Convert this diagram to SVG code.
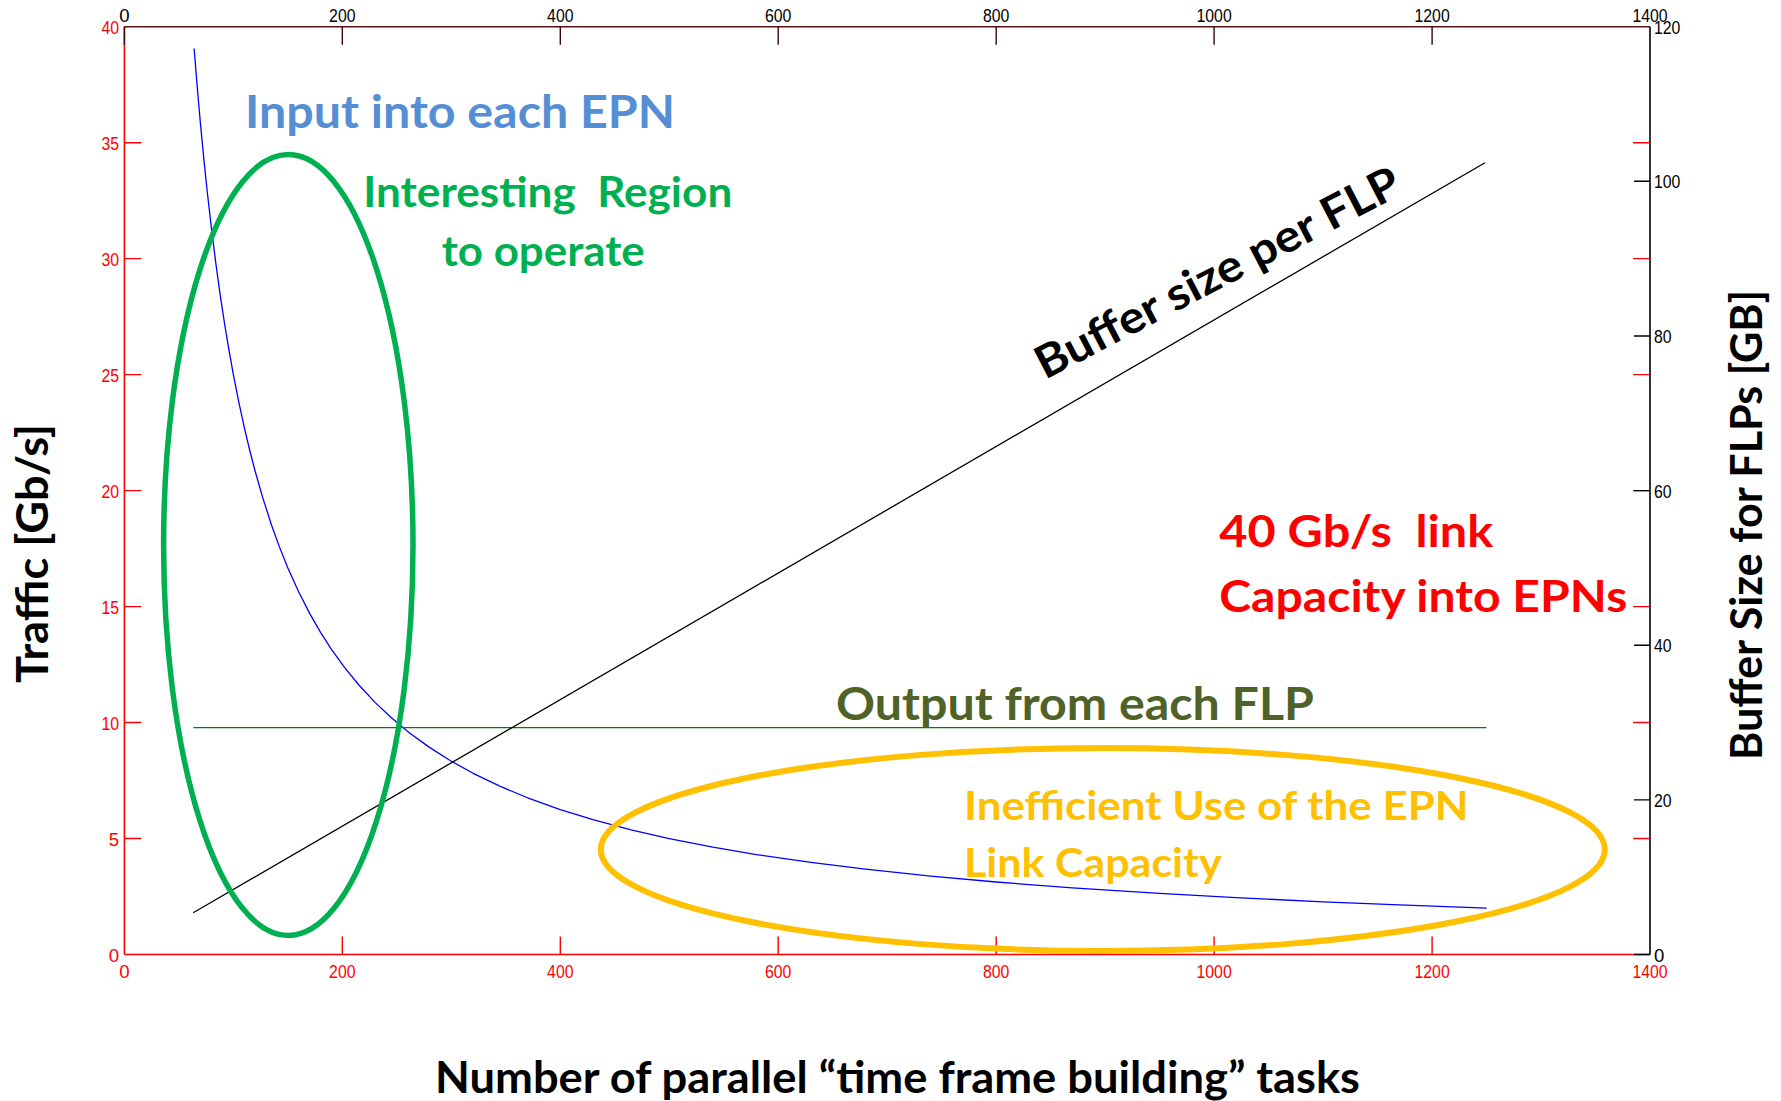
<svg xmlns="http://www.w3.org/2000/svg" width="1781" height="1101" viewBox="0 0 1781 1101">
<style>
.tick{font-family:"Liberation Sans",Arial,sans-serif;font-size:18.6px}
.lbl{font-family:"Lato","Open Sans",sans-serif;font-weight:700}
.red{fill:#FF0000}
.blk{fill:#000000}
</style>
<rect width="1781" height="1101" fill="#ffffff"/>
<g id="axes">
  <line x1="124.4" y1="26.7" x2="124.4" y2="954.5" stroke="#FF0000" stroke-width="1.6"/>
  <line x1="124.4" y1="954.5" x2="1650" y2="954.5" stroke="#FF0000" stroke-width="1.6"/>
  <line x1="124.4" y1="26.7" x2="1650" y2="26.7" stroke="#5a1010" stroke-width="1.6"/>
  <line x1="1650" y1="26.7" x2="1650" y2="954.5" stroke="#000000" stroke-width="1.6"/>
  <g stroke="#FF0000" stroke-width="1.4">
    <path d="M124.4 838.5h17M124.4 722.5h17M124.4 606.6h17M124.4 490.6h17M124.4 374.6h17M124.4 258.6h17M124.4 142.7h17"/>
    <path d="M1650 838.5h-17M1650 722.5h-17M1650 606.6h-17M1650 490.6h-17M1650 374.6h-17M1650 258.6h-17M1650 142.7h-17"/>
    <path d="M342.3 954.5v-18M560.3 954.5v-18M778.2 954.5v-18M996.2 954.5v-18M1214.1 954.5v-18M1432.1 954.5v-18"/>
  </g>
  <g stroke="#3a0808" stroke-width="1.4">
    <path d="M342.3 26.7v18M560.3 26.7v18M778.2 26.7v18M996.2 26.7v18M1214.1 26.7v18M1432.1 26.7v18M124.4 26.7v18"/>
  </g>
  <g stroke="#000000" stroke-width="1.4">
    <path d="M1650 799.9h-16M1650 645.2h-16M1650 490.6h-16M1650 336h-16M1650 181.3h-16M1650 954.5h-16"/>
  </g>
  <g class="tick red" text-anchor="end">
    <text x="119" y="961.5">0</text>
    <text x="119" y="845.5">5</text>
    <text x="119" y="729.5" textLength="17.6" lengthAdjust="spacingAndGlyphs">10</text>
    <text x="119" y="613.6" textLength="17.6" lengthAdjust="spacingAndGlyphs">15</text>
    <text x="119" y="497.6" textLength="17.6" lengthAdjust="spacingAndGlyphs">20</text>
    <text x="119" y="381.6" textLength="17.6" lengthAdjust="spacingAndGlyphs">25</text>
    <text x="119" y="265.6" textLength="17.6" lengthAdjust="spacingAndGlyphs">30</text>
    <text x="119" y="149.7" textLength="17.6" lengthAdjust="spacingAndGlyphs">35</text>
    <text x="119" y="33.7" textLength="17.6" lengthAdjust="spacingAndGlyphs">40</text>
  </g>
  <g class="tick red" text-anchor="middle">
    <text x="124.4" y="978.3">0</text>
    <text x="342.3" y="978.3" textLength="26.4" lengthAdjust="spacingAndGlyphs">200</text>
    <text x="560.3" y="978.3" textLength="26.4" lengthAdjust="spacingAndGlyphs">400</text>
    <text x="778.2" y="978.3" textLength="26.4" lengthAdjust="spacingAndGlyphs">600</text>
    <text x="996.2" y="978.3" textLength="26.4" lengthAdjust="spacingAndGlyphs">800</text>
    <text x="1214.1" y="978.3" textLength="35.2" lengthAdjust="spacingAndGlyphs">1000</text>
    <text x="1432.1" y="978.3" textLength="35.2" lengthAdjust="spacingAndGlyphs">1200</text>
    <text x="1650" y="978.3" textLength="35.2" lengthAdjust="spacingAndGlyphs">1400</text>
  </g>
  <g class="tick blk" text-anchor="middle">
    <text x="124.4" y="21.7">0</text>
    <text x="342.3" y="21.7" textLength="26.4" lengthAdjust="spacingAndGlyphs">200</text>
    <text x="560.3" y="21.7" textLength="26.4" lengthAdjust="spacingAndGlyphs">400</text>
    <text x="778.2" y="21.7" textLength="26.4" lengthAdjust="spacingAndGlyphs">600</text>
    <text x="996.2" y="21.7" textLength="26.4" lengthAdjust="spacingAndGlyphs">800</text>
    <text x="1214.1" y="21.7" textLength="35.2" lengthAdjust="spacingAndGlyphs">1000</text>
    <text x="1432.1" y="21.7" textLength="35.2" lengthAdjust="spacingAndGlyphs">1200</text>
    <text x="1650" y="21.7" textLength="35.2" lengthAdjust="spacingAndGlyphs">1400</text>
  </g>
  <g class="tick blk">
    <text x="1654" y="961.5">0</text>
    <text x="1654" y="806.9" textLength="17.6" lengthAdjust="spacingAndGlyphs">20</text>
    <text x="1654" y="652.2" textLength="17.6" lengthAdjust="spacingAndGlyphs">40</text>
    <text x="1654" y="497.6" textLength="17.6" lengthAdjust="spacingAndGlyphs">60</text>
    <text x="1654" y="343" textLength="17.6" lengthAdjust="spacingAndGlyphs">80</text>
    <text x="1654" y="188.3" textLength="26.4" lengthAdjust="spacingAndGlyphs">100</text>
    <text x="1654" y="33.7" textLength="26.4" lengthAdjust="spacingAndGlyphs">120</text>
  </g>
</g>
<g id="curves" fill="none">
  <polyline id="input-curve" stroke="#0000FF" stroke-width="1.3" stroke-linejoin="round" points="194.14,48.43 196.32,75.88 198.5,101.72 200.68,126.09 203.95,160.13 207.22,191.49 211.58,229.64 215.94,264.16 220.29,295.54 224.65,324.19 229.01,350.45 233.37,374.61 238.82,402.23 244.27,427.33 249.72,450.25 255.17,471.26 262.79,497.9 271.51,524.95 279.14,546.13 287.86,567.91 298.75,592.07 309.65,613.39 320.55,632.34 331.44,649.3 344.52,667.43 358.69,684.78 375.03,702.38 391.38,717.81 409.9,733.17 429.52,747.4 451.31,761.2 473.11,773.29 500.35,786.42 527.59,797.77 560.28,809.53 592.98,819.64 631.11,829.79 669.26,838.52 712.84,847.11 756.43,854.52 810.92,862.45 865.4,869.22 930.79,876.14 996.17,882.01 1072.45,887.85 1159.62,893.46 1235.9,897.65 1323.08,901.78 1399.36,904.94 1486.54,908.11"/>
  <line id="output-line" x1="193.3" y1="727.7" x2="1486.5" y2="727.7" stroke="#008000" stroke-width="1.3"/>
  <line id="buffer-line" x1="193.2" y1="912.7" x2="1485" y2="162.7" stroke="#000000" stroke-width="1.3"/>
</g>
<g id="regions" fill="none">
  <ellipse id="interesting-region" cx="288.3" cy="545" rx="124.7" ry="390.5" stroke="#00B050" stroke-width="5.5"/>
  <ellipse id="inefficient-region" cx="1102.8" cy="849.5" rx="502" ry="101.5" stroke="#FFC000" stroke-width="6"/>
</g>
<g id="labels" class="lbl">
  <text x="245" y="128.3" font-size="46.5" fill="#558ED5" textLength="430" lengthAdjust="spacingAndGlyphs">Input into each EPN</text>
  <text x="363.3" y="207" font-size="42.7" fill="#00B050" textLength="369" lengthAdjust="spacingAndGlyphs" xml:space="preserve">Interesting  Region</text>
  <text x="441.7" y="265.5" font-size="42.7" fill="#00B050" textLength="203" lengthAdjust="spacingAndGlyphs">to operate</text>
  <text transform="translate(1045,380) rotate(-27.5)" font-size="45" fill="#000000" textLength="405" lengthAdjust="spacingAndGlyphs">Buffer size per FLP</text>
  <text x="1219.3" y="546.7" font-size="44.5" fill="#FF0000" textLength="274" lengthAdjust="spacingAndGlyphs" xml:space="preserve">40 Gb/s  link</text>
  <text x="1219.3" y="611.7" font-size="44.5" fill="#FF0000" textLength="408" lengthAdjust="spacingAndGlyphs">Capacity into EPNs</text>
  <text x="836" y="720" font-size="46.5" fill="#4F6228" textLength="478" lengthAdjust="spacingAndGlyphs">Output from each FLP</text>
  <text x="964" y="820" font-size="39.5" fill="#FFC000" textLength="504.6" lengthAdjust="spacingAndGlyphs">Inefficient Use of the EPN</text>
  <text x="964" y="876.7" font-size="39.5" fill="#FFC000" textLength="257.7" lengthAdjust="spacingAndGlyphs">Link Capacity</text>
  <text transform="translate(48,553.5) rotate(-90)" text-anchor="middle" font-size="44" fill="#000000" textLength="259" lengthAdjust="spacingAndGlyphs">Traffic [Gb/s]</text>
  <text transform="translate(1761.7,525) rotate(-90)" text-anchor="middle" font-size="43" fill="#000000" textLength="470" lengthAdjust="spacingAndGlyphs">Buffer Size for FLPs [GB]</text>
  <text x="435" y="1093" font-size="43.7" fill="#000000" textLength="925" lengthAdjust="spacingAndGlyphs">Number of parallel “time frame building” tasks</text>
</g>
</svg>
